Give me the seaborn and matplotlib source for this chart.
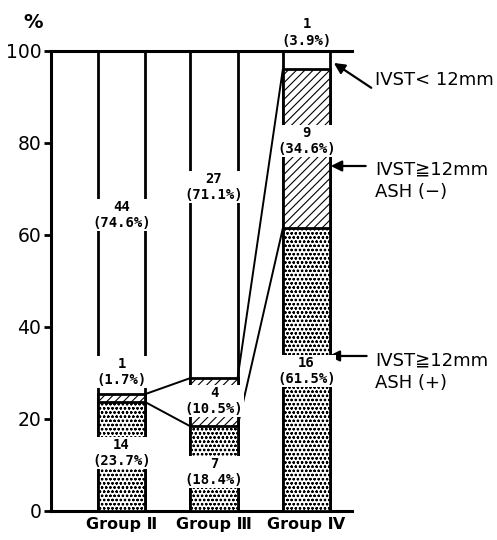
import matplotlib
matplotlib.use("Agg")
import matplotlib.pyplot as plt
import seaborn as sns
import numpy as np

# ---- data ----
groups = ["Group Ⅱ", "Group Ⅲ", "Group Ⅳ"]
ash_pos_n = [14, 7, 16]
ash_pos_pct = [23.7, 18.4, 61.5]
ash_neg_n = [1, 4, 9]
ash_neg_pct = [1.7, 10.5, 34.6]
small_n = [44, 27, 1]
small_pct = [74.6, 71.1, 3.9]
yticks = [0, 20, 40, 60, 80, 100]

# label centre heights (layout)
lab_small_y = [64.3, 70.4, 104.0]
lab_neg_y = [30.2, 23.9, 80.4]
lab_pos_y = [12.6, 8.5, 30.4]

sns.set_style("ticks")
plt.rcParams["font.family"] = ["DejaVu Sans", "Noto Sans CJK JP"]
plt.rcParams["hatch.linewidth"] = 0.8
plt.rcParams["text.color"] = "black"
plt.rcParams["xtick.color"] = "black"
plt.rcParams["ytick.color"] = "black"
plt.rcParams["xtick.labelcolor"] = "black"
plt.rcParams["ytick.labelcolor"] = "black"

fig = plt.figure(figsize=(4.97, 5.40), dpi=100)
ax = fig.add_axes([51 / 497, 1 - 511 / 540, (352 - 51) / 497, (511 - 51) / 540])

W = 0.51
LW = 2.0
pos_top = np.array(ash_pos_pct)
neg_top = pos_top + np.array(ash_neg_pct)
tot_top = neg_top + np.array(small_pct)
tot_top = np.minimum(tot_top, 100)

n0 = len(ax.patches)
sns.barplot(x=groups, y=list(tot_top), color="white", edgecolor="black",
            linewidth=LW, width=W, ax=ax, saturation=1, zorder=2)
n1 = len(ax.patches)
sns.barplot(x=groups, y=list(neg_top), color="white", edgecolor="black",
            linewidth=LW, width=W, ax=ax, saturation=1, zorder=3)
n2 = len(ax.patches)
for p in ax.patches[n1:n2]:
    p.set_hatch("////")
sns.barplot(x=groups, y=list(pos_top), color="white", edgecolor="black",
            linewidth=LW, width=W, ax=ax, saturation=1, zorder=4)
for p in ax.patches[n2:]:
    p.set_hatch("oooo")
    if hasattr(p, "set_hatch_linewidth"):
        p.set_hatch_linewidth(0.6)

# connecting lines between bars
for i in range(len(groups) - 1):
    xr = i + W / 2
    xl = i + 1 - W / 2
    ax.plot([xr, xl], [neg_top[i], neg_top[i + 1]], color="black", lw=1.4,
            zorder=5, clip_on=False, solid_capstyle="butt")
    ax.plot([xr, xl], [pos_top[i], pos_top[i + 1]], color="black", lw=1.4,
            zorder=5, clip_on=False, solid_capstyle="butt")

# value labels
mono = dict(family="DejaVu Sans Mono", fontsize=10, fontweight="bold",
            ha="center", va="center", linespacing=1.2, zorder=6, color="black",
            bbox=dict(facecolor="white", edgecolor="none", pad=0.5), clip_on=False)
for i in range(len(groups)):
    ax.text(i, lab_small_y[i], f"{small_n[i]}\n({small_pct[i]}%)", **mono)
    ax.text(i, lab_neg_y[i], f"{ash_neg_n[i]}\n({ash_neg_pct[i]}%)", **mono)
    ax.text(i, lab_pos_y[i], f"{ash_pos_n[i]}\n({ash_pos_pct[i]}%)", **mono)

# axes styling
ax.set_xlim(-0.762, 2.492)
ax.set_ylim(0, 100)
ax.set_yticks(yticks)
ax.set_yticklabels([str(v) for v in yticks])
ax.set_xlabel("")
ax.set_ylabel("")
for s in ["left", "bottom", "top"]:
    ax.spines[s].set_linewidth(2.2)
    ax.spines[s].set_color("black")
ax.spines["right"].set_visible(False)
ax.tick_params(axis="y", length=5, width=2, labelsize=13.5, pad=2, color="black",
               labelcolor="black")
ax.tick_params(axis="x", length=0, labelsize=11.5, pad=4, labelcolor="black")
for t in ax.get_xticklabels():
    t.set_fontweight("bold")

fig.text(33 / 497, 1 - 22 / 540, "%", fontsize=14, ha="center", va="center",
         fontweight="bold", color="black")

# right-side annotations with arrows
arrow = dict(arrowstyle="-|>", color="black", lw=1.6, mutation_scale=16,
             shrinkA=0, shrinkB=0)
tk = dict(fontsize=13, ha="left", va="center", clip_on=False, color="black",
          linespacing=1.3)
ax.annotate("", xy=(2.296, 97.4), xytext=(2.70, 92.0), arrowprops=arrow,
            annotation_clip=False)
ax.text(2.745, 93.7, "IVST< 12mm", **tk)
ax.annotate("", xy=(2.263, 75.0), xytext=(2.64, 75.0), arrowprops=arrow,
            annotation_clip=False)
ax.text(2.745, 71.8, "IVST≧12mm\nASH (−)", **tk)
ax.annotate("", xy=(2.24, 33.7), xytext=(2.65, 33.7), arrowprops=arrow,
            annotation_clip=False)
ax.text(2.745, 30.2, "IVST≧12mm\nASH (+)", **tk)

fig.savefig("out.png", dpi=100)
